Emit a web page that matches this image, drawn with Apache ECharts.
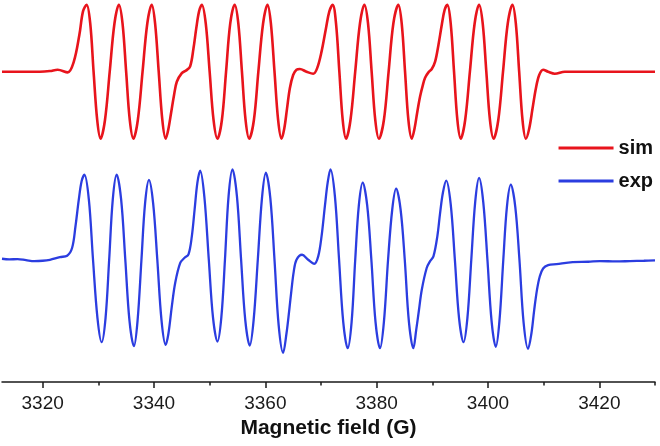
<!DOCTYPE html>
<html>
<head>
<meta charset="utf-8">
<script src="https://cdn.jsdelivr.net/npm/echarts@6/dist/echarts.min.js"></script>
<style>
html,body{margin:0;padding:0;background:#fff;}
#chart{width:660px;height:446px;}
</style>
</head>
<body>
<div id="chart"></div>
<script>
// Magnetic field (G) and intensity (arb. units)
const simField = [3312.7,3319.5,3321.3,3322.7,3324.5,3325.6,3326.6,3327.25,3327.9,
 3328.55,3329.15,3329.8,3330.4,3331.2,3332.05,3332.9,3333.7,3334.35,3335.0,3335.65,3336.3,3337.1,3337.95,3338.8,3339.6,3340.2,3340.85,3341.5,3342.1,
 3342.6,3343.1,3343.6,3344.1,3345.0,3345.8,3346.5,3347.1,3347.6,3348.1,3348.6,
 3349.3,3350.0,3350.7,3351.4,3352.2,3352.95,3353.7,3354.5,3355.15,3355.8,3356.45,3357.1,3357.95,3358.75,3359.6,3360.4,3361.0,3361.65,3362.3,3362.9,
 3363.4,3363.9,3364.4,3365.0,3365.6,3366.2,3367.4,3368.6,3369.3,3370.1,3370.9,3371.5,3372.1,
 3372.7,3373.3,3373.9,3374.5,3375.3,3376.15,3377.0,3377.8,3378.45,3379.1,3379.75,3380.4,3381.3,3382.15,3383.0,3383.9,3384.5,3385.1,3385.7,3386.3,
 3386.8,3387.3,3387.8,3388.3,3388.7,3389.3,3389.9,3390.5,3391.1,3391.7,3392.2,3392.7,
 3393.3,3393.9,3394.5,3395.1,3395.9,3396.75,3397.6,3398.4,3399.05,3399.7,3400.35,3401.0,3401.85,3402.7,3403.55,3404.4,3405.0,3405.6,3406.2,3406.8,
 3407.4,3408.0,3408.6,3409.2,3409.9,3410.8,3412.0,3413.8,3420,3430];
const simValue = [0,0,0.01,0.03,-0.01,0.15,0.55,0.9,1.0,
 0.72,0,-0.72,-1.0,-0.72,0,0.72,1.0,0.72,0,-0.72,-1.0,-0.72,0,0.72,1.0,0.72,0,-0.72,-1.0,
 -0.85,-0.6,-0.35,-0.15,-0.02,0.02,0.08,0.35,0.65,0.9,1.0,
 0.72,0,-0.72,-1.0,-0.72,0,0.72,1.0,0.72,0,-0.72,-1.0,-0.72,0,0.72,1.0,0.72,0,-0.72,-1.0,
 -0.85,-0.55,-0.25,-0.05,0.03,0.04,0.0,-0.03,0.05,0.3,0.65,0.9,1.0,
 0.72,0,-0.72,-1.0,-0.72,0,0.72,1.0,0.72,0,-0.72,-1.0,-0.72,0,0.72,1.0,0.72,0,-0.72,-1.0,
 -0.85,-0.6,-0.37,-0.2,-0.09,-0.01,0.04,0.15,0.4,0.7,0.92,1.0,
 0.72,0,-0.72,-1.0,-0.72,0,0.72,1.0,0.72,0,-0.72,-1.0,-0.72,0,0.72,1.0,0.72,0,-0.72,-1.0,
 -0.85,-0.55,-0.25,-0.05,0.03,0.0,-0.03,0,0,0];

const expField = [3312.7,3314.0,3315.5,3317.0,3318.5,3320.0,3321.3,3323.1,3324.4,3325.3,3325.9,3326.5,3327.0,3327.5,
 3328.3,3329.05,3329.85,3330.6,3331.3,3331.95,3332.6,3333.3,3334.1,3334.85,3335.6,3336.4,3337.05,3337.75,3338.4,3339.1,3339.85,3340.6,3341.35,3342.1,
 3342.6,3343.2,3343.8,3344.7,3345.5,3346.2,3346.8,3347.3,3347.8,3348.3,
 3349.05,3349.85,3350.6,3351.4,3352.1,3352.75,3353.4,3354.1,3354.9,3355.65,3356.4,3357.2,3357.9,3358.65,3359.4,3360.1,3360.9,3361.65,3362.4,3363.2,
 3363.8,3364.3,3364.7,3365.1,3365.6,3366.6,3367.7,3368.8,3369.5,3370.1,3370.7,3371.2,3371.7,
 3372.5,3373.25,3374.0,3374.8,3375.5,3376.15,3376.8,3377.5,3378.3,3379.05,3379.8,3380.6,3381.3,3382.05,3382.8,3383.5,3384.3,3385.05,3385.8,3386.6,
 3387.1,3387.6,3388.1,3389.0,3389.6,3390.2,3390.9,3391.4,3391.9,3392.5,
 3393.3,3394.05,3394.8,3395.6,3396.3,3397.0,3397.7,3398.4,3399.15,3399.9,3400.65,3401.4,3402.05,3402.75,3403.4,3404.1,3404.9,3405.65,3406.4,3407.2,
 3407.8,3408.3,3408.8,3409.3,3409.9,3410.8,3412.3,3415.2,3418.0,3420.1,3423.0,3425.5,3428.0,3430];
const expValue = [0.015,0.005,0.01,-0.005,-0.02,-0.015,0,0.04,0.06,0.18,0.5,0.9,1.17,1.27,
 0.9,0,-0.87,-1.23,-0.87,0,0.9,1.27,0.9,0,-0.91,-1.29,-0.91,0,0.84,1.19,0.84,0,-0.9,-1.27,
 -1.1,-0.7,-0.35,-0.05,0.03,0.08,0.35,0.75,1.15,1.33,
 0.94,0,-0.86,-1.22,-0.86,0,0.95,1.35,0.95,0,-0.9,-1.28,-0.9,0,0.92,1.30,0.92,0,-0.98,-1.39,
 -1.1,-0.75,-0.45,-0.18,0.0,0.075,0.0,-0.06,0.05,0.35,0.8,1.15,1.35,
 0.95,0,-0.93,-1.32,-0.93,0,0.81,1.15,0.81,0,-0.93,-1.32,-0.93,0,0.75,1.06,0.75,0,-0.93,-1.32,
 -1.05,-0.75,-0.45,-0.12,-0.02,0.05,0.35,0.7,1.0,1.18,
 0.83,0,-0.87,-1.23,-0.87,0,0.86,1.22,0.86,0,-0.92,-1.30,-0.92,0,0.79,1.12,0.79,0,-0.94,-1.33,
 -1.1,-0.75,-0.45,-0.25,-0.13,-0.08,-0.065,-0.035,-0.03,-0.02,-0.025,-0.02,-0.015,-0.01];

const simOffset = 0;
const expOffset = -2.806;

const majorTicks = [3320,3340,3360,3380,3400,3420];
const minorTicks = [3330,3350,3370,3390,3410,3430];

const simData = simField.map((b,i)=>[b, simValue[i] + simOffset]);
const expData = expField.map((b,i)=>[b, expValue[i] + expOffset]);

const chart = echarts.init(document.getElementById('chart'), null, {renderer:'canvas'});
const axisColor = '#1a1a1a';
const font = 'Liberation Sans, Arial, sans-serif';
chart.setOption({
  animation:false,
  backgroundColor:'#fff',
  grid:{left:2,right:5,top:0,bottom:64,containLabel:false},
  legend:{
    orient:'vertical', right:2, top:133, itemWidth:55, itemHeight:3, itemGap:13,
    icon:'rect',
    textStyle:{fontFamily:font,fontSize:20,fontWeight:'bold',color:'#111'},
    data:['sim','exp']
  },
  xAxis:[{
    type:'value', min:3312.7, max:3430,
    name:'Magnetic field (G)', nameLocation:'middle', nameGap:35,
    nameTextStyle:{fontFamily:font,fontSize:21,fontWeight:'bold',color:'#111'},
    axisLine:{show:true,onZero:false,lineStyle:{color:axisColor,width:1.5}},
    axisTick:{show:true,length:6,lineStyle:{color:axisColor,width:1.5},customValues:majorTicks},
    axisLabel:{show:true,margin:12,fontFamily:font,fontSize:19,color:'#1a1a1a',customValues:majorTicks,
      formatter:(v)=>String(v)},
    splitLine:{show:false}
  },{
    type:'value', min:3312.7, max:3430, position:'bottom',
    axisLine:{show:false,onZero:false},
    axisTick:{show:true,length:3.5,lineStyle:{color:axisColor,width:1.5},customValues:minorTicks},
    axisLabel:{show:false},
    splitLine:{show:false}
  }],
  yAxis:{type:'value',min:-4.63,max:1.07,show:false,splitLine:{show:false}},
  series:[
    {name:'sim',type:'line',data:simData,showSymbol:false,symbol:'none',smooth:0.35,
     itemStyle:{color:'#e8141c'},lineStyle:{color:'#e8141c',width:2.6}},
    {name:'exp',type:'line',data:expData,showSymbol:false,symbol:'none',smooth:0.35,
     itemStyle:{color:'#2b3de0'},lineStyle:{color:'#2b3de0',width:2.3}}
  ]
});
</script>
</body>
</html>
